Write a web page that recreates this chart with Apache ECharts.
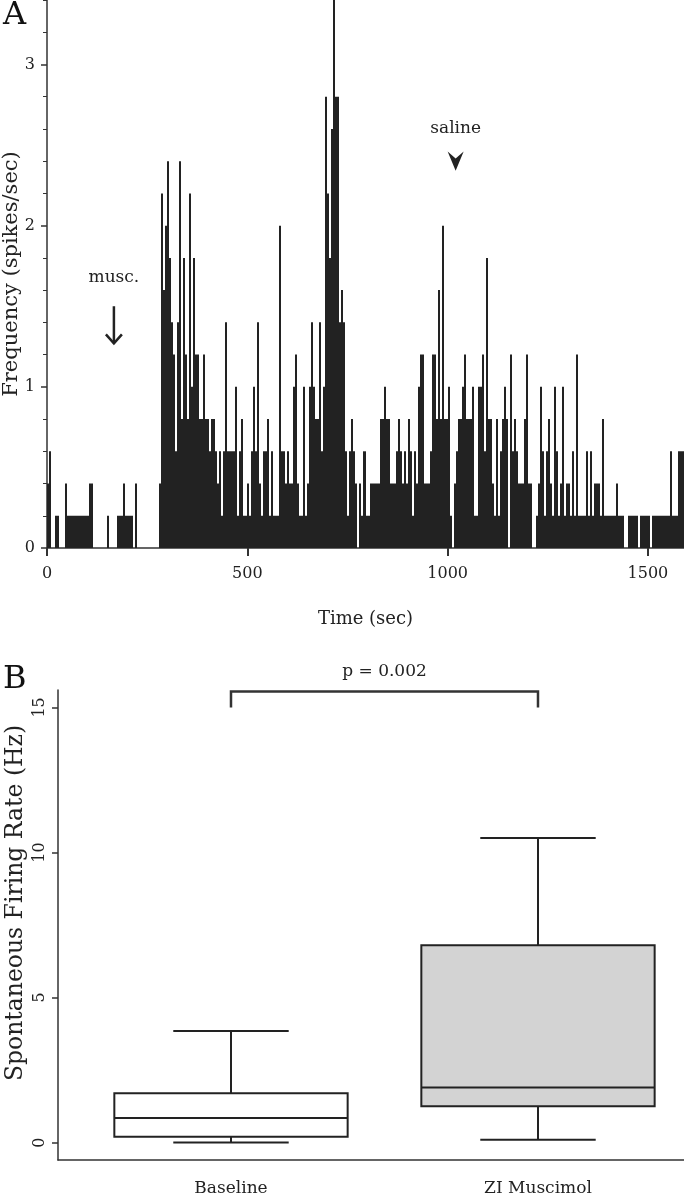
<!DOCTYPE html>
<html><head><meta charset="utf-8">
<script src="https://cdn.jsdelivr.net/npm/echarts@6/dist/echarts.min.js"></script>
<style>html,body{margin:0;padding:0;background:#fff}#c{width:684px;height:1200px}</style>
</head><body><div id="c"></div>
<script>
// ---------- Panel A data: spike-rate histogram, 5-s bins starting at 0 s ----------
const BIN_SEC = 5;
const freq = [
  0.4,0.6,0,0,0.2,0.2,0,0,0,0.4,
  0.2,0.2,0.2,0.2,0.2,0.2,0.2,0.2,0.2,0.2,
  0.2,0.4,0.4,0,0,0,0,0,0,0,
  0.2,0,0,0,0,0.2,0.2,0.2,0.4,0.2,
  0.2,0.2,0.2,0,0.4,0,0,0,0,0,
  0,0,0,0,0,0,0.4,2.2,1.6,2.0,
  2.4,1.8,1.4,1.2,0.6,1.4,2.4,0.8,1.8,1.2,
  0.8,2.2,1.0,1.8,1.2,1.2,0.8,0.8,1.2,0.8,
  0.8,0.6,0.8,0.8,0.6,0.4,0.6,0.2,0.6,1.4,
  0.6,0.6,0.6,0.6,1.0,0.2,0.6,0.8,0.2,0.2,
  0.4,0.2,0.6,1.0,0.6,1.4,0.4,0.2,0.6,0.6,
  0.8,0.2,0.6,0.2,0.2,0.2,2.0,0.6,0.6,0.4,
  0.6,0.4,0.4,1.0,1.2,0.4,0.2,0.2,1.0,0.2,
  0.4,1.0,1.4,1.0,0.8,0.8,1.4,0.6,1.0,2.8,
  2.2,1.8,2.6,3.4,2.8,2.8,1.4,1.6,1.4,0.6,
  0.2,0.6,0.8,0.6,0.4,0,0.4,0.2,0.6,0.2,
  0.2,0.4,0.4,0.4,0.4,0.4,0.8,0.8,1.0,0.8,
  0.8,0.4,0.4,0.4,0.6,0.8,0.6,0.4,0.6,0.4,
  0.8,0.6,0.2,0.6,0.4,1.0,1.2,1.2,0.4,0.4,
  0.4,0.6,1.2,1.2,0.8,1.6,0.8,2.0,0.8,0.8,
  1.0,0.2,0,0.4,0.6,0.8,0.8,1.0,1.2,0.8,
  0.8,0.8,1.0,0.2,0.2,1.0,1.0,1.2,0.6,1.8,
  0.8,0.8,0.4,0.2,0.8,0.2,0.6,0.8,1.0,0.8,
  0,1.2,0.6,0.8,0.6,0.4,0.4,0.4,0.8,1.2,
  0.4,0.4,0,0,0.2,0.4,1.0,0.6,0.2,0.6,
  0.8,0.4,0.2,1.0,0.6,0.2,0.4,1.0,0.2,0.4,
  0.4,0.2,0.6,0.2,1.2,0.2,0.2,0.2,0.2,0.6,
  0.2,0.6,0.2,0.4,0.4,0.4,0.2,0.8,0.2,0.2,
  0.2,0.2,0.2,0.2,0.4,0.2,0.2,0.2,0,0,
  0.2,0.2,0.2,0.2,0.2,0,0.2,0.2,0.2,0.2,
  0.2,0,0.2,0.2,0.2,0.2,0.2,0.2,0.2,0.2,
  0.2,0.6,0.2,0.2,0.2,0.6,0.6,0.6
];
const timeTicks = [0, 500, 1000, 1500];
const timeMinorTicks = [100,200,300,400,600,700,800,900,1100,1200,1300,1400];
const freqTicks = [0, 1, 2, 3];
const freqMinorTicks = [0.2,0.4,0.6,0.8,1.2,1.4,1.6,1.8,2.2,2.4,2.6,2.8,3.2,3.4];
const events = [
  {label: 'musc.', time: 167},
  {label: 'saline', time: 1020}
];

// ---------- Panel B data: box plots ----------
const groups = ['Baseline', 'ZI Muscimol'];
const whiskerLow = [0.0, 0.1];
const q1 = [0.2, 1.25];
const median = [0.85, 1.9];
const q3 = [1.7, 6.8];
const whiskerHigh = [3.85, 10.5];
const rateTicks = [0, 5, 10, 15];
const pLabel = 'p = 0.002';

// ---------- styling constants ----------
const SERIF = '"DejaVu Serif","Liberation Serif",serif';
const INK = '#222';
const AXIS = '#333';
const boxFills = ['#ffffff', '#d3d3d3'];
const BOX_HALF = 0.38, CAP_HALF = 0.188;

const histData = freq.map((v, i) => [i * BIN_SEC, v]);
const boxData = groups.map((g, i) => [i + 1, whiskerLow[i], q1[i], median[i], q3[i], whiskerHigh[i]]);

const chart = echarts.init(document.getElementById('c'), null, {renderer: 'canvas'});

const option = {
  animation: false,
  backgroundColor: '#fff',
  grid: [
    {left: 47, right: 0, top: 0, height: 548, outerBoundsMode: 'none', containLabel: false},
    {left: 58, right: 0, top: 690, height: 470, outerBoundsMode: 'none', containLabel: false}
  ],
  xAxis: [
    { gridIndex: 0, type: 'value', min: 0, max: 1590,
      axisLine: {show: true, onZero: false, lineStyle: {color: AXIS, width: 1.5}},
      axisTick: {show: true, customValues: timeTicks, length: 8, lineStyle: {color: AXIS, width: 2}},
      axisLabel: {customValues: timeTicks, formatter: v => String(v), fontFamily: SERIF, fontSize: 16, color: '#222', margin: 18},
      splitLine: {show: false},
      name: 'Time (sec)', nameLocation: 'middle', nameGap: 62, nameMoveOverlap: false,
      nameTextStyle: {fontFamily: SERIF, fontSize: 18, color: '#222'} },
    { gridIndex: 0, type: 'value', min: 0, max: 1590,
      axisLine: {show: false, onZero: false},
      axisTick: {show: true, customValues: timeMinorTicks, length: 4, lineStyle: {color: AXIS, width: 1}},
      axisLabel: {show: false}, splitLine: {show: false} },
    { gridIndex: 1, type: 'value', min: 0.4365, max: 2.4756,
      axisLine: {show: true, onZero: false, lineStyle: {color: AXIS, width: 1.5}},
      axisTick: {show: false},
      axisLabel: {customValues: [1, 2], formatter: v => groups[Math.round(v) - 1],
                  fontFamily: SERIF, fontSize: 17, color: '#222', margin: 20},
      splitLine: {show: false} }
  ],
  yAxis: [
    { gridIndex: 0, type: 'value', min: 0, max: 3.4,
      axisLine: {show: true, onZero: false, lineStyle: {color: AXIS, width: 1.5}},
      axisTick: {show: true, customValues: freqTicks, length: 6, lineStyle: {color: AXIS, width: 1.5}},
      axisLabel: {customValues: freqTicks, fontFamily: SERIF, fontSize: 16, color: '#222', margin: 12},
      splitLine: {show: false},
      name: 'Frequency (spikes/sec)', nameLocation: 'middle', nameGap: 25, nameRotate: 90, nameMoveOverlap: false,
      nameTextStyle: {fontFamily: SERIF, fontSize: 21, color: '#222'} },
    { gridIndex: 0, type: 'value', min: 0, max: 3.4, position: 'left',
      axisLine: {show: false, onZero: false},
      axisTick: {show: true, customValues: freqMinorTicks, length: 4, lineStyle: {color: AXIS, width: 1}},
      axisLabel: {show: false}, splitLine: {show: false} },
    { gridIndex: 1, type: 'value', min: -0.6, max: 15.6,
      axisLine: {show: true, onZero: false, lineStyle: {color: AXIS, width: 1.5}},
      axisTick: {show: true, customValues: rateTicks, length: 6, lineStyle: {color: AXIS, width: 1.5}},
      axisLabel: {customValues: rateTicks, rotate: 90, fontFamily: SERIF, fontSize: 16, color: '#222', margin: 10},
      splitLine: {show: false},
      name: 'Spontaneous Firing Rate (Hz)', nameLocation: 'middle', nameGap: 30, nameRotate: 90, nameMoveOverlap: false,
      nameTextStyle: {fontFamily: SERIF, fontSize: 23.5, color: '#222', padding: [0, 0, 0, 44]} }
  ],
  series: [
    { type: 'custom', xAxisIndex: 0, yAxisIndex: 0, data: histData, clip: true,
      renderItem: (params, api) => {
        const t = api.value(0), v = api.value(1);
        if (!v) return null;
        const p0 = api.coord([t, 0]);
        const p1 = api.coord([t + BIN_SEC, v]);
        const x0 = Math.round(p0[0]), x1 = Math.round(p1[0]);
        return {type: 'rect', shape: {x: x0, y: p1[1], width: x1 - x0, height: p0[1] - p1[1]},
                style: {fill: INK}};
      } },
    { type: 'custom', xAxisIndex: 2, yAxisIndex: 2, data: boxData, clip: false,
      renderItem: (params, api) => {
        const x = api.value(0);
        const c = k => api.coord([x, api.value(k)]);
        const lo = c(1), a = c(2), m = c(3), b = c(4), hi = c(5);
        const hb = api.size([BOX_HALF, 0])[0];
        const hc = api.size([CAP_HALF, 0])[0];
        const xc = lo[0];
        const ls = {stroke: INK, lineWidth: 2};
        return {type: 'group', children: [
          {type: 'line', shape: {x1: xc, y1: lo[1], x2: xc, y2: a[1]}, style: ls},
          {type: 'line', shape: {x1: xc, y1: b[1], x2: xc, y2: hi[1]}, style: ls},
          {type: 'line', shape: {x1: xc - hc, y1: lo[1], x2: xc + hc, y2: lo[1]}, style: ls},
          {type: 'line', shape: {x1: xc - hc, y1: hi[1], x2: xc + hc, y2: hi[1]}, style: ls},
          {type: 'rect', shape: {x: xc - hb, y: b[1], width: 2 * hb, height: a[1] - b[1]},
           style: {fill: boxFills[params.dataIndex], stroke: INK, lineWidth: 2}},
          {type: 'line', shape: {x1: xc - hb, y1: m[1], x2: xc + hb, y2: m[1]}, style: ls}
        ]};
      } }
  ]
};
chart.setOption(option);

// ---------- annotations placed through the axes ----------
const px = (ax, ay, pt) => chart.convertToPixel({xAxisIndex: ax, yAxisIndex: ay}, pt);
const m0 = px(0, 0, [events[0].time, 1.68]);
const mA = px(0, 0, [events[0].time, 1.50]);
const mB = px(0, 0, [events[0].time, 1.27]);
const s0 = px(0, 0, [events[1].time, 2.60]);
const sA = px(0, 0, [events[1].time, 2.46]);
const sB = px(0, 0, [events[1].time, 2.34]);
const br1 = px(2, 2, [1, 15.55]), br1b = px(2, 2, [1, 15.0]);
const br2 = px(2, 2, [2, 15.55]), br2b = px(2, 2, [2, 15.0]);

chart.setOption({
  graphic: [
    {type: 'text', left: 3, top: 0, style: {text: 'A', font: '32px ' + SERIF, fill: '#111'}},
    {type: 'text', left: 3, top: 664, style: {text: 'B', font: '32px ' + SERIF, fill: '#111'}},
    {type: 'text', x: m0[0], y: m0[1], style: {text: events[0].label, font: '17px ' + SERIF, fill: '#222', align: 'center', verticalAlign: 'middle'}},
    {type: 'line', shape: {x1: mA[0], y1: mA[1], x2: mB[0], y2: mB[1]}, style: {stroke: '#222', lineWidth: 2.5}},
    {type: 'polyline', shape: {points: [[mB[0] - 8, mB[1] - 9], [mB[0], mB[1]], [mB[0] + 8, mB[1] - 9]]}, style: {stroke: '#222', lineWidth: 2.5, fill: null}},
    {type: 'text', x: s0[0], y: s0[1], style: {text: events[1].label, font: '17px ' + SERIF, fill: '#222', align: 'center', verticalAlign: 'middle'}},
    {type: 'polygon', shape: {points: [[sA[0] - 8, sA[1]], [sA[0], sA[1] + 7], [sA[0] + 8, sA[1]], [sB[0], sB[1]]]}, style: {fill: '#222'}},
    {type: 'polyline', shape: {points: [br1b, br1, br2, br2b]}, style: {stroke: '#333', lineWidth: 2.5, fill: null}},
    {type: 'text', x: (br1[0] + br2[0]) / 2, y: br1[1] - 20, style: {text: pLabel, font: '17px ' + SERIF, fill: '#222', align: 'center', verticalAlign: 'middle'}}
  ]
});
</script>
</body></html>
